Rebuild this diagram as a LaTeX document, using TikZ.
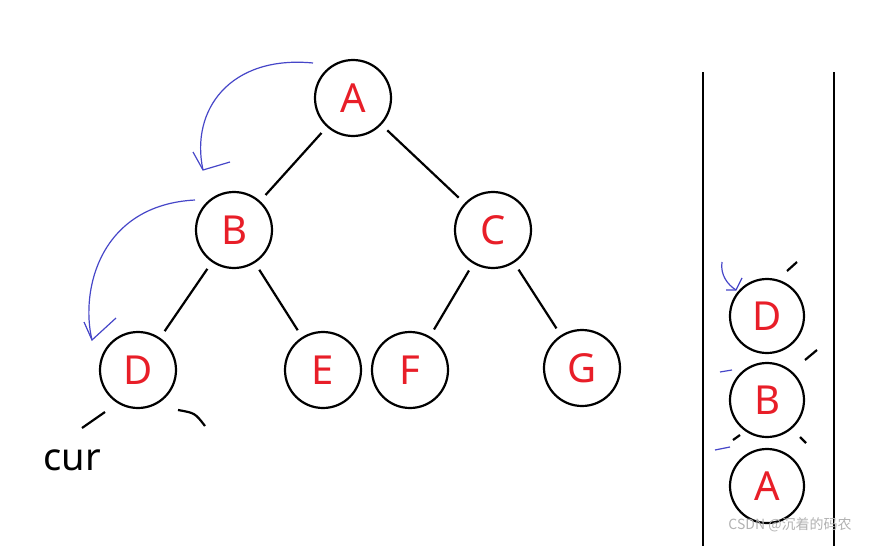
\documentclass[tikz,border=0pt]{standalone}
\usepackage{fontspec}
\setmainfont{Noto Sans}
\newfontfamily\cjk{Noto Sans CJK SC}
\usetikzlibrary{arrows.meta}
\definecolor{lred}{RGB}{232,30,40}
\definecolor{lblue}{RGB}{70,70,200}
\begin{document}
\begin{tikzpicture}[x=1pt,y=-1pt,
  nd/.style={circle,draw=black,line width=2.2pt,minimum size=76pt,inner sep=0pt,text=lred,font=\fontsize{40}{42}\selectfont},
  sn/.style={nd,minimum size=74pt},
  ed/.style={line width=2.2pt,shorten >=8pt,shorten <=8pt},
  tk/.style={line width=2.2pt},
  bl/.style={draw=lblue,line width=1.2pt}]
\useasboundingbox (0,0) rectangle (876,546);
\node[nd] (A) at (353,98) {A};
\node[nd] (B) at (234,230) {B};
\node[nd] (C) at (493,230) {C};
\node[nd] (D) at (138,370) {D};
\node[nd] (E) at (323,370) {E};
\node[nd] (F) at (410,370) {F};
\node[nd] (G) at (582,368) {G};
\draw[ed] (A) -- (B); \draw[ed] (A) -- (C);
\draw[ed] (B) -- (D); \draw[ed] (B) -- (E);
\draw[ed] (C) -- (F); \draw[ed] (C) -- (G);
\draw[tk] (82,428) -- (105,412);
\draw[tk] (178,410) .. controls (195,413) .. (205,426);
\node[font=\fontsize{38}{40}\selectfont] (cur) at (72,460) {cur};
\draw[bl] (313,63) .. controls (230,55) and (190,110) .. (203,170);
\draw[bl] (193,152) -- (203,170) -- (230,162);
\draw[bl] (195,200) .. controls (100,205) and (80,290) .. (92,340);
\draw[bl] (84,322) -- (92,340) -- (116,318);
% stack
\draw[tk] (703,72) -- (703,546);
\draw[tk] (834,72) -- (834,546);
\node[sn] (SD) at (767,316) {D};
\node[sn] (SB) at (767,400) {B};
\node[sn] (SA) at (767,486) {A};
\draw[tk] (787,271) -- (797,262);
\draw[bl] (722,262) .. controls (720,275) and (728,285) .. (736,290);
\draw[bl] (726,290) -- (736,290) -- (742,278);
\draw[tk] (805,360) -- (817,350);
\draw[bl] (720,372) -- (732,370);
\draw[tk] (733,440) -- (740,435);
\draw[tk] (800,437) -- (806,443);
\draw[bl] (715,450) -- (730,447);
\node[text=gray!60,font=\cjk\fontsize{14}{15}\selectfont] (wm) at (790,525) {CSDN @沉着的码农};
\end{tikzpicture}
\end{document}
